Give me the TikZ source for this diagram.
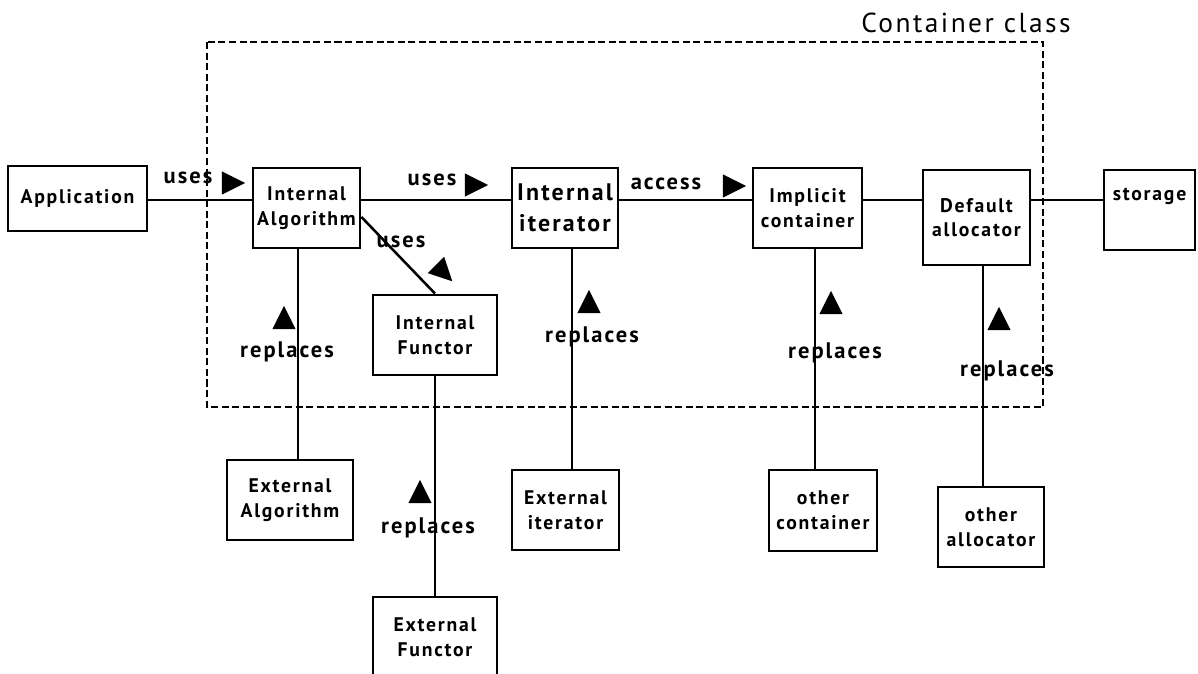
\documentclass[tikz,border=0pt]{standalone}
\usepackage{fontspec}
\setmainfont{PT Sans}[LetterSpace=9]
\usetikzlibrary{shapes.geometric}

\tikzset{
  blk/.style={rectangle,draw=black,line width=2pt,inner sep=0pt,align=center,
    font=\bfseries\fontsize{14}{17.5}\selectfont},
  lnk/.style={line width=1.8pt},
  tri/.style={isosceles triangle,isosceles triangle apex angle=60,isosceles triangle stretches,
    fill=black,inner sep=0pt,minimum width=0.58cm,minimum height=0.58cm},
  lbl/.style={inner sep=0pt,font=\bfseries\fontsize{16}{19}\selectfont},
}

\begin{document}
\begin{tikzpicture}[x=0.025cm,y=-0.025cm]
\clip (0,0) rectangle (1198,674);
\coordinate (bus) at (0,200);

% container class frame
\draw[dashed,dash pattern=on 5pt off 2.5pt,line width=1.4pt] (207,42) rectangle (1043,407);
\node (cls) at (966,23)[inner sep=0pt,font=\fontsize{19.5}{23}\selectfont]{Container class};

% boxes on the main line
\node (app) at (77.5,198.5)[blk,minimum width=3.475cm,minimum height=1.625cm]{Application};
\node (alg) at (306.5,208)[blk,minimum width=2.675cm,minimum height=2cm]{Internal\\Algorithm};
\node (iter) at (565,208)[blk,minimum width=2.65cm,minimum height=2cm,font=\bfseries\fontsize{17}{22}\selectfont]{Internal\\iterator};
\node (cont) at (807.5,208)[blk,minimum width=2.725cm,minimum height=2cm]{Implicit\\container};
\node (alloc) at (976.5,217.5)[blk,minimum width=2.675cm,minimum height=2.375cm]{Default\\allocator};
\node (stor) at (1149.5,210)[blk,minimum width=2.275cm,minimum height=2cm,text depth=0.8cm]{storage};
\node (fun) at (435,335)[blk,minimum width=3.1cm,minimum height=2cm]{Internal\\Functor};

% replacements
\node (extalg) at (290,500)[blk,minimum width=3.15cm,minimum height=2cm]{External\\Algorithm};
\node (extfun) at (435,637)[blk,minimum width=3.1cm,minimum height=2cm]{External\\Functor};
\node (extiter) at (565.5,510)[blk,minimum width=2.675cm,minimum height=2cm]{External\\iterator};
\node (othcont) at (823,510.5)[blk,minimum width=2.7cm,minimum height=2.025cm]{other\\container};
\node (othalloc) at (991,527)[blk,minimum width=2.65cm,minimum height=2cm]{other\\allocator};

\draw[lnk](app.east |- bus)--(alg.west |- bus);
\draw[lnk](alg.east |- bus)--(iter.west |- bus);
\draw[lnk](iter.east |- bus)--(cont.west |- bus);
\draw[lnk](cont.east |- bus)--(alloc.west |- bus);
\draw[lnk](alloc.east |- bus)--(stor.west |- bus);
\draw[lnk](alg.east |- 0,217)--(fun.north);

\draw[lnk](alg.south -| 298,0)--(extalg.north -| 298,0);
\draw[lnk](fun.south)--(extfun.north);
\draw[lnk](iter.south -| 572,0)--(extiter.north -| 572,0);
\draw[lnk](cont.south -| 815,0)--(othcont.north -| 815,0);
\draw[lnk](alloc.south -| 983,0)--(othalloc.north -| 983,0);

% labels and direction marks
\node (u1) at (188,178)[lbl]{uses};
\node (t1) at (229,183)[tri]{};
\node (u2) at (432,180)[lbl]{uses};
\node (t2) at (472,185)[tri]{};
\node (acc) at (666,184)[lbl]{access};
\node (t3) at (730,186)[tri]{};
\node (u3) at (401,242)[lbl]{uses};
\node (t4) at (441,270)[tri,rotate=-45]{};

\node (r1) at (287,352)[lbl]{replaces};
\node (t5) at (284,322)[tri,shape border rotate=90]{};
\node (r2) at (428,528)[lbl]{replaces};
\node (t6) at (420,496)[tri,shape border rotate=90]{};
\node (r3) at (592,337)[lbl]{replaces};
\node (t7) at (589,306)[tri,shape border rotate=90]{};
\node (r4) at (835,353)[lbl]{replaces};
\node (t8) at (831,307)[tri,shape border rotate=90]{};
\node (r5) at (1007,371)[lbl]{replaces};
\node (t9) at (999,323)[tri,shape border rotate=90]{};
\end{tikzpicture}
\end{document}
